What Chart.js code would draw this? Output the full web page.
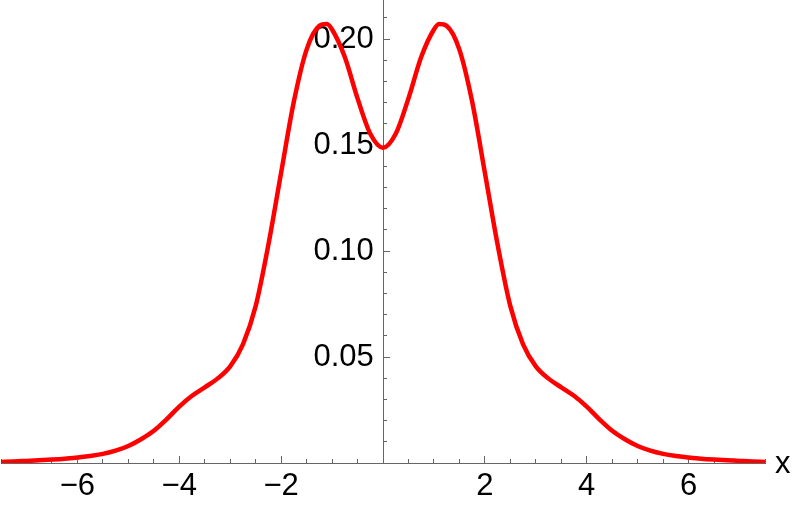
<!DOCTYPE html>
<html>
<head>
<meta charset="utf-8">
<script src="https://cdn.jsdelivr.net/npm/chart.js@4.4.1/dist/chart.umd.min.js"></script>
<style>
  html, body { margin: 0; padding: 0; background: #fff; }
  canvas { display: block; }
</style>
</head>
<body>
<canvas id="densityChart" width="793" height="507"></canvas>
<script>
// curve samples
const xValues = [
  -7.5, -7.25, -7, -6.75, -6.5, -6.25, -6, -5.75, -5.5, -5.25,
  -5, -4.75, -4.5, -4.25, -4, -3.75, -3.5, -3.25, -3, -2.75,
  -2.5, -2.25, -2, -1.75, -1.5, -1.25, -1.1, -1, -0.75, -0.5,
  -0.25, 0, 0.25, 0.5, 0.75, 1, 1.1, 1.25, 1.5, 1.75,
  2, 2.25, 2.5, 2.75, 3, 3.25, 3.5, 3.75, 4, 4.25,
  4.5, 4.75, 5, 5.25, 5.5, 5.75, 6, 6.25, 6.5, 6.75,
  7, 7.25, 7.5
];
const yValues = [
  0.0005, 0.0007, 0.0010, 0.0013, 0.0016, 0.0020, 0.0026, 0.0033, 0.0043, 0.0058,
  0.0080, 0.0112, 0.0152, 0.0206, 0.0266, 0.0317, 0.0357, 0.0398, 0.0456, 0.0560,
  0.0740, 0.1030, 0.1370, 0.1705, 0.1950, 0.2062, 0.2071, 0.2045, 0.1915, 0.1720,
  0.1553, 0.1487, 0.1553, 0.1720, 0.1915, 0.2045, 0.2071, 0.2062, 0.1950, 0.1705,
  0.1370, 0.1030, 0.0740, 0.0560, 0.0456, 0.0398, 0.0357, 0.0317, 0.0266, 0.0206,
  0.0152, 0.0112, 0.0080, 0.0058, 0.0043, 0.0033, 0.0026, 0.0020, 0.0016, 0.0013,
  0.0010, 0.0007, 0.0005
];

const xTicks = [-6, -4, -2, 2, 4, 6];
const xTickLabels = ['\u22126', '\u22124', '\u22122', '2', '4', '6'];
const yTicks = [0.05, 0.10, 0.15, 0.20];
const yTickLabels = ['0.05', '0.10', '0.15', '0.20'];

const axisGray = '#666666';
const tickFont = { family: "'Liberation Sans', Arial, sans-serif", size: 31 };
const yMax = 0.2184;

// "x" name at the end of the horizontal axis
const axisNamePlugin = {
  id: 'axisName',
  afterDraw(chart) {
    const ctx = chart.ctx;
    const y0 = chart.scales.y.getPixelForValue(0);
    ctx.save();
    ctx.font = "31px 'Liberation Sans', Arial, sans-serif";
    ctx.fillStyle = '#000';
    ctx.textAlign = 'left';
    ctx.textBaseline = 'middle';
    ctx.fillText('x', chart.chartArea.right + 10, y0 + 1);
    ctx.restore();
  }
};

const noSpaceY = (scale) => { scale.width = 0; scale.paddingTop = 0; scale.paddingBottom = 0; };

const data = {
  datasets: [{
    label: 'density',
    data: xValues.map((x, i) => ({ x: x, y: yValues[i] })),
    borderColor: '#ff0000',
    borderWidth: 4.5,
    pointRadius: 0,
    cubicInterpolationMode: 'monotone',
    fill: false,
    xAxisID: 'x',
    yAxisID: 'y'
  }]
};

const config = {
  type: 'line',
  data: data,
  options: {
    responsive: false,
    animation: false,
    layout: { padding: { left: 1, right: 28, top: 0, bottom: 0 } },
    plugins: {
      legend: { display: false },
      tooltip: { enabled: false }
    },
    scales: {
      xMinor: {
        axis: 'x',
        type: 'linear',
        position: 'bottom',
        weight: -1,
        min: -7.5,
        max: 7.5,
        border: { display: false },
        grid: { drawOnChartArea: false, tickLength: -4, tickColor: axisGray },
        ticks: { display: false, stepSize: 0.5, maxTicksLimit: 100, autoSkip: false },
        afterFit(scale) { scale.height = 0; scale.paddingLeft = 0; scale.paddingRight = 0; }
      },
      x: {
        type: 'linear',
        position: 'bottom',
        weight: 0,
        min: -7.5,
        max: 7.5,
        border: { display: true, color: axisGray, width: 1 },
        grid: { drawOnChartArea: false, tickLength: -7, tickColor: axisGray },
        afterBuildTicks(scale) { scale.ticks = xTicks.map(v => ({ value: v })); },
        ticks: {
          autoSkip: false,
          maxRotation: 0,
          padding: 12,
          color: '#000',
          font: tickFont,
          callback: (value, index) => xTickLabels[index]
        },
        afterFit(scale) { scale.height = 44; scale.paddingLeft = 0; scale.paddingRight = 0; }
      },
      // vertical axis line and minor / major tick marks at x = 0
      yMinor: {
        axis: 'y',
        type: 'linear',
        position: { x: 0 },
        min: 0,
        max: yMax,
        border: { display: false },
        grid: { drawOnChartArea: false, tickLength: -4, tickColor: axisGray },
        ticks: { display: false, stepSize: 0.01, maxTicksLimit: 100, autoSkip: false, includeBounds: false },
        afterFit: noSpaceY
      },
      yAxisLine: {
        axis: 'y',
        type: 'linear',
        position: { x: 0 },
        min: 0,
        max: yMax,
        border: { display: true, color: axisGray, width: 1 },
        grid: { drawOnChartArea: false, tickLength: -7, tickColor: axisGray },
        afterBuildTicks(scale) { scale.ticks = yTicks.map(v => ({ value: v })); },
        ticks: { display: false, autoSkip: false },
        afterFit: noSpaceY
      },
      // tick labels, set a little left of the axis
      y: {
        type: 'linear',
        position: { x: -0.18 },
        min: 0,
        max: yMax,
        border: { display: false },
        grid: { display: false, drawOnChartArea: false, drawTicks: false },
        afterBuildTicks(scale) { scale.ticks = yTicks.map(v => ({ value: v })); },
        ticks: {
          autoSkip: false,
          padding: 0,
          color: '#000',
          font: tickFont,
          callback: (value, index) => yTickLabels[index]
        },
        afterFit: noSpaceY
      }
    }
  },
  plugins: [axisNamePlugin]
};

const ctx = document.getElementById('densityChart').getContext('2d');
new Chart(ctx, config);
</script>
</body>
</html>
